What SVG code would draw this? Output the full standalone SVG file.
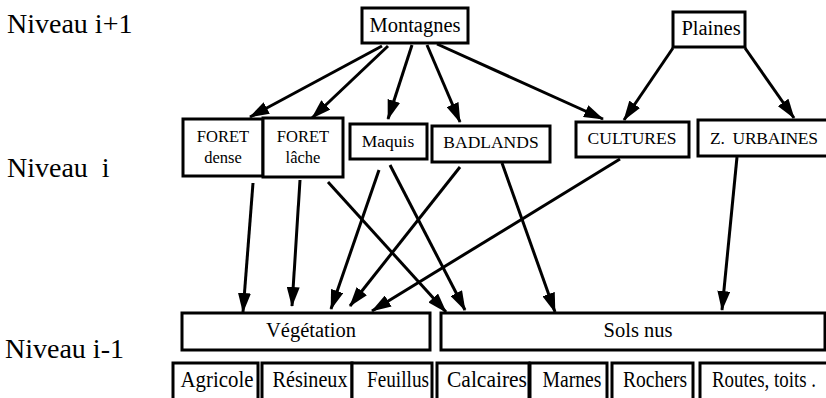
<svg xmlns="http://www.w3.org/2000/svg" width="826" height="398" viewBox="0 0 826 398">
<defs>
<style>
.bg{fill:#fff}
.box{fill:#fff;stroke:#000;stroke-width:3}
.t{font-family:"Liberation Serif","Times New Roman",serif;fill:#000;text-anchor:middle}
.lvl{font-family:"Liberation Serif","Times New Roman",serif;fill:#000;font-size:28px}
.s16{font-size:16.5px}
.s17{font-size:17.5px}
.s20{font-size:20.5px}
.s24{font-size:23px}
.edge{fill:none;stroke:#000;stroke-width:3}
</style>
<marker id="ah" markerUnits="userSpaceOnUse" viewBox="0 0 20 13" markerWidth="20" markerHeight="13" refX="19" refY="6.5" orient="auto">
<path d="M0,0 L20,6.5 L0,13 z" fill="#000"/>
</marker>
</defs>
<rect class="bg" x="0" y="0" width="826" height="398"/>

<g id="levels">
<text class="lvl" x="7" y="33">Niveau i+1</text>
<text class="lvl" x="7" y="177" xml:space="preserve">Niveau  i</text>
<text class="lvl" x="5" y="358">Niveau i-1</text>
</g>

<g id="connectors">
<line class="edge" x1="382" y1="46" x2="250" y2="117" marker-end="url(#ah)"/>
<line class="edge" x1="388" y1="46" x2="312" y2="118" marker-end="url(#ah)"/>
<line class="edge" x1="412" y1="45" x2="388" y2="119" marker-end="url(#ah)"/>
<line class="edge" x1="427" y1="45" x2="460" y2="122" marker-end="url(#ah)"/>
<line class="edge" x1="437" y1="44" x2="603" y2="119" marker-end="url(#ah)"/>
<line class="edge" x1="673" y1="48" x2="624" y2="120" marker-end="url(#ah)"/>
<line class="edge" x1="745" y1="48" x2="794" y2="118" marker-end="url(#ah)"/>

<line class="edge" x1="253" y1="183" x2="243" y2="312" marker-end="url(#ah)"/>
<line class="edge" x1="300" y1="180" x2="292" y2="306" marker-end="url(#ah)"/>
<line class="edge" x1="328" y1="182" x2="446" y2="312" marker-end="url(#ah)"/>
<line class="edge" x1="379" y1="170" x2="331" y2="309" marker-end="url(#ah)"/>
<line class="edge" x1="390" y1="165" x2="465" y2="310" marker-end="url(#ah)"/>
<line class="edge" x1="460" y1="167" x2="350" y2="306" marker-end="url(#ah)"/>
<line class="edge" x1="502" y1="163" x2="555" y2="312" marker-end="url(#ah)"/>
<line class="edge" x1="620" y1="159" x2="372" y2="311" marker-end="url(#ah)"/>
<line class="edge" x1="737" y1="157" x2="722" y2="310" marker-end="url(#ah)"/>
</g>

<g id="montagnes">
<rect class="box" x="362" y="8" width="106" height="35"/>
<text class="t s20" x="415" y="32">Montagnes</text>
</g>
<g id="plaines">
<rect class="box" x="673" y="12" width="72" height="35"/>
<text class="t s20" x="711" y="35">Plaines</text>
</g>

<g id="foret-dense">
<rect class="box" x="183" y="119" width="80" height="57"/>
<text class="t s16" x="223" y="142">FORET</text>
<text class="t s16" x="223" y="163">dense</text>
</g>
<g id="foret-lache">
<rect class="box" x="263" y="118" width="80" height="59"/>
<text class="t s16" x="303" y="142">FORET</text>
<text class="t s16" x="303" y="163">lâche</text>
</g>
<g id="maquis">
<rect class="box" x="350" y="124" width="77" height="35"/>
<text class="t s17" x="388" y="147">Maquis</text>
</g>
<g id="badlands">
<rect class="box" x="432" y="126" width="118" height="36"/>
<text class="t s17" x="491" y="148">BADLANDS</text>
</g>
<g id="cultures">
<rect class="box" x="576" y="122" width="113" height="35"/>
<text class="t s17" x="632" y="144">CULTURES</text>
</g>
<g id="z-urbaines">
<rect class="box" x="698" y="120" width="135" height="36"/>
<text class="t s17" x="764" y="144" textLength="108" lengthAdjust="spacing" xml:space="preserve">Z.  URBAINES</text>
</g>

<g id="vegetation">
<rect class="box" x="182" y="313" width="248" height="37"/>
<text class="t s20" x="311" y="337">Végétation</text>
</g>
<g id="sols-nus">
<rect class="box" x="441" y="313" width="384" height="37"/>
<text class="t s20" x="638" y="337">Sols nus</text>
</g>

<g id="agricole">
<rect class="box" x="173" y="363" width="85" height="42"/>
<text class="t s24" x="217" y="387" textLength="73" lengthAdjust="spacingAndGlyphs">Agricole</text>
</g>
<g id="resineux">
<rect class="box" x="262" y="363" width="90" height="42"/>
<text class="t s24" x="310" y="387" textLength="75" lengthAdjust="spacingAndGlyphs">Résineux</text>
</g>
<g id="feuillus">
<rect class="box" x="352" y="363" width="80" height="42"/>
<text class="t s24" x="398" y="387" textLength="62" lengthAdjust="spacingAndGlyphs">Feuillus</text>
</g>
<g id="calcaires">
<rect class="box" x="437" y="363" width="92" height="42"/>
<text class="t s24" x="487" y="387" textLength="80" lengthAdjust="spacingAndGlyphs">Calcaires</text>
</g>
<g id="marnes">
<rect class="box" x="530" y="363" width="77" height="42"/>
<text class="t s24" x="572" y="387" textLength="59" lengthAdjust="spacingAndGlyphs">Marnes</text>
</g>
<g id="rochers">
<rect class="box" x="612" y="363" width="81" height="42"/>
<text class="t s24" x="655" y="387" textLength="64" lengthAdjust="spacingAndGlyphs">Rochers</text>
</g>
<g id="routes">
<rect class="box" x="700" y="363" width="135" height="42"/>
<text class="t s24" x="764" y="387" textLength="104" lengthAdjust="spacingAndGlyphs">Routes, toits .</text>
</g>
</svg>
